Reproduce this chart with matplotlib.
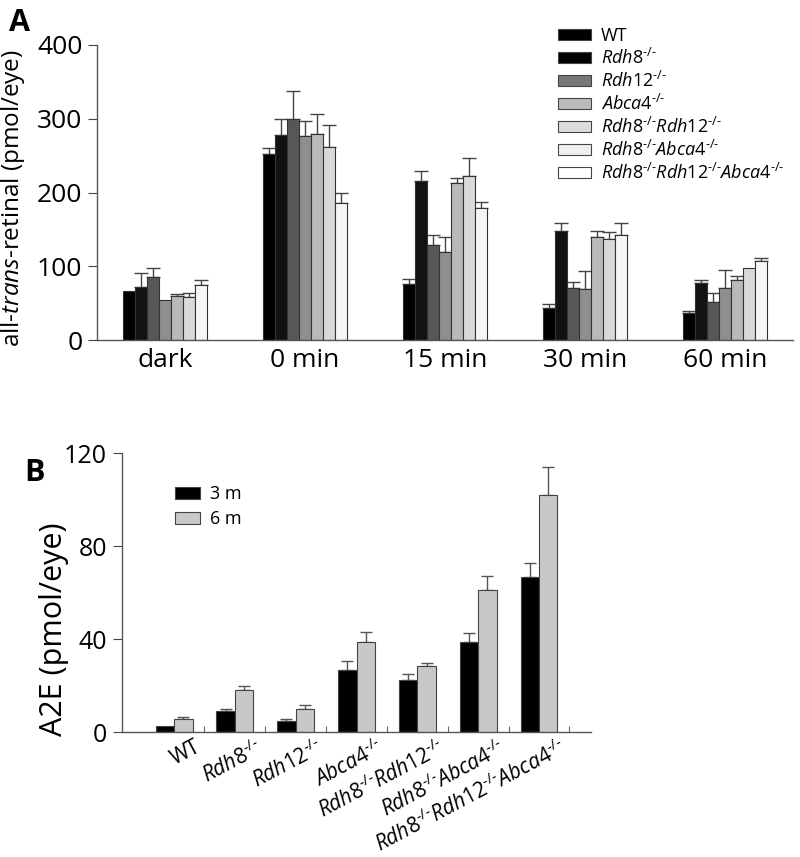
import numpy as np
import matplotlib
matplotlib.use("Agg")
import matplotlib.pyplot as plt
from matplotlib.patches import Patch
import matplotlib.transforms as mtransforms

plt.rcParams['font.family'] = ['Open Sans', 'DejaVu Sans']
plt.rcParams['mathtext.fontset'] = 'custom'
plt.rcParams['mathtext.rm'] = 'Open Sans'
plt.rcParams['mathtext.it'] = 'Open Sans:italic'
plt.rcParams['mathtext.bf'] = 'Open Sans:bold'

# ---------------- Panel A data ----------------
timepoints = ['dark', '0 min', '15 min', '30 min', '60 min']
wt_vals = [67, 252, 76, 44, 36]
wt_err = [0, 8, 7, 5, 4]
rdh8_vals = [72, 278, 215, 148, 77]
rdh8_err = [19, 21, 14, 11, 4]
rdh12_vals = [86, 299, 129, 70, 52]
rdh12_err = [11, 39, 13, 8, 12]
abca4_vals = [54, 276, 119, 69, 71]
abca4_err = [0, 21, 20, 25, 24]
r8r12_vals = [59, 279, 213, 139, 81]
r8r12_err = [4, 28, 6, 9, 6]
r8a4_vals = [58, 262, 223, 137, 97]
r8a4_err = [6, 29, 24, 10, 0]
triple_vals = [74, 186, 179, 142, 107]
triple_err = [7, 13, 8, 16, 4]

# ---------------- Panel B data ----------------
genotypes_b = ['WT', 'Rdh8', 'Rdh12', 'Abca4', 'Rdh8Rdh12', 'Rdh8Abca4', 'Rdh8Rdh12Abca4']
a2e_3m = [2.7, 9.2, 4.9, 26.7, 22.3, 38.9, 66.6]
a2e_3m_err = [0, 0.7, 0.6, 3.7, 2.7, 3.7, 6.0]
a2e_6m = [5.5, 18.2, 10.0, 38.6, 28.4, 61.1, 102.0]
a2e_6m_err = [0.8, 1.7, 1.8, 4.3, 1.2, 6.0, 12.0]

KO = r'^{\text{-/-}}'
def lab(parts):
    if parts == ['WT']:
        return 'WT'
    return '$' + ''.join(r'\mathit{%s}%s' % (p, KO) for p in parts) + '$'

label_parts = [['WT'], ['Rdh8'], ['Rdh12'], ['Abca4'], ['Rdh8', 'Rdh12'],
               ['Rdh8', 'Abca4'], ['Rdh8', 'Rdh12', 'Abca4']]
labels = [lab(p) for p in label_parts]

W, H = 800, 857
fig = plt.figure(figsize=(W / 100, H / 100), dpi=100)

def fx(px):
    return px / W
def fy(py):
    return 1 - py / H

# ---------------- Panel A ----------------
axA = fig.add_axes([fx(97), fy(340), fx(793) - fx(97), fy(45) - fy(340)])
series_a = [(wt_vals, wt_err), (rdh8_vals, rdh8_err), (rdh12_vals, rdh12_err),
            (abca4_vals, abca4_err), (r8r12_vals, r8r12_err), (r8a4_vals, r8a4_err),
            (triple_vals, triple_err)]
bar_colors_a = ['#000000', '#121212', '#575757', '#8e8e8e', '#b9b9b9', '#d9d9d9', '#f5f5f5']
leg_colors_a = ['#000000', '#000000', '#777777', '#bbbbbb', '#dddddd', '#f0f0f0', '#ffffff']
bw = 0.086
xg = np.arange(len(timepoints))
for i, ((vals, errs), col) in enumerate(zip(series_a, bar_colors_a)):
    x = xg + (i - 3) * bw
    axA.bar(x, vals, width=bw, color=col, edgecolor='#333333', linewidth=0.8, zorder=2)
    errs = np.array(errs, dtype=float)
    m = errs > 0
    axA.errorbar(x[m], np.array(vals)[m], yerr=[np.zeros(m.sum()), errs[m]], fmt='none',
                 ecolor='#444444', elinewidth=1.0, capsize=5.2, capthick=1.0, zorder=1)
axA.set_xlim(-0.486, 4.486)
axA.set_ylim(0, 400)
axA.set_yticks([0, 100, 200, 300, 400])
axA.set_xticks(xg)
axA.set_xticklabels(timepoints, fontsize=19)
axA.tick_params(axis='x', length=0, pad=6)
axA.tick_params(axis='y', labelsize=19, length=6.5, width=0.8, color='#444444', pad=4)
for s in ['top', 'right']:
    axA.spines[s].set_visible(False)
for s in ['left', 'bottom']:
    axA.spines[s].set_color('#555555')
    axA.spines[s].set_linewidth(1.0)
axA.set_ylabel(r'all-$\mathit{trans}$-retinal (pmol/eye)', fontsize=17.5)
axA.yaxis.set_label_coords(-0.10, 0.48)
handlesA = [Patch(facecolor=c, edgecolor='#444444', linewidth=0.8) for c in leg_colors_a]
axA.legend(handlesA, labels, loc='upper left', bbox_to_anchor=(fx(558), fy(27)),
           bbox_transform=fig.transFigure, frameon=False, fontsize=13,
           handlelength=1.8, handleheight=0.58, handletextpad=0.58, labelspacing=0.16,
           borderpad=0, borderaxespad=0)

# ---------------- Panel B ----------------
axB = fig.add_axes([fx(121.7), fy(732), fx(590.7) - fx(121.7), fy(453.3) - fy(732)])
bwb = 0.304
xb = np.arange(len(genotypes_b))
for vals, errs, col, off in [(a2e_3m, a2e_3m_err, '#000000', -0.5),
                              (a2e_6m, a2e_6m_err, '#c8c8c8', 0.5)]:
    x = xb + off * bwb
    axB.bar(x, vals, width=bwb, color=col, edgecolor='#444444', linewidth=0.8, zorder=2)
    errs = np.array(errs, dtype=float)
    m = errs > 0
    axB.errorbar(x[m], np.array(vals)[m], yerr=[np.zeros(m.sum()), errs[m]], fmt='none',
                 ecolor='#555555', elinewidth=1.0, capsize=4.6, capthick=1.0, zorder=1)
axB.set_xlim(-0.86, 6.85)
axB.set_ylim(0, 120)
axB.set_yticks([0, 40, 80, 120])
axB.set_xticks(xb)
axB.set_xticklabels(labels, fontsize=15, rotation=28, ha='right', va='top',
                    rotation_mode='anchor')
axB.tick_params(axis='x', length=0, pad=3)
offset = mtransforms.ScaledTranslation(20 / 100, 0, fig.dpi_scale_trans)
for t in axB.get_xticklabels():
    t.set_transform(t.get_transform() + offset)
axB.set_xticks(np.arange(len(genotypes_b)) + 0.5, minor=True)
axB.tick_params(axis='x', which='minor', direction='in', length=4, width=0.8, color='#666666')
axB.tick_params(axis='y', labelsize=18, length=6.5, width=0.8, color='#444444', pad=4)
for s in ['top', 'right']:
    axB.spines[s].set_visible(False)
for s in ['left', 'bottom']:
    axB.spines[s].set_color('#555555')
    axB.spines[s].set_linewidth(1.0)
axB.set_ylabel('A2E (pmol/eye)', fontsize=22)
axB.yaxis.set_label_coords(-0.112, 0.37)
handlesB = [Patch(facecolor='#000000', edgecolor='#444444', linewidth=0.8),
            Patch(facecolor='#c8c8c8', edgecolor='#444444', linewidth=0.8)]
axB.legend(handlesB, ['3 m', '6 m'], loc='upper left', bbox_to_anchor=(fx(175), fy(485)),
           bbox_transform=fig.transFigure, frameon=False, fontsize=13,
           handlelength=1.4, handleheight=0.65, handletextpad=0.55, labelspacing=0.4,
           borderpad=0, borderaxespad=0)

fig.text(fx(9), fy(31), 'A', fontsize=22, fontweight='bold')
fig.text(fx(24), fy(481), 'B', fontsize=22, fontweight='bold')

fig.savefig('out.png', dpi=100)
